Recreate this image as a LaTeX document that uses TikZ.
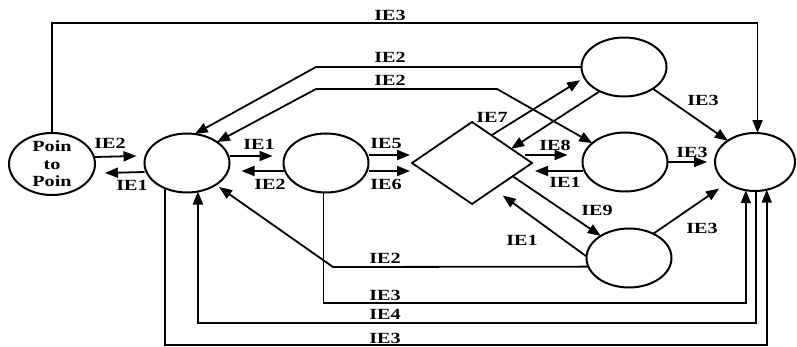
\documentclass[tikz,border=0pt]{standalone}
\usepackage{fontspec}
\setmainfont{Liberation Serif}
\newfontfamily\lblfont[FakeStretch=1.3]{Liberation Serif}
\usetikzlibrary{shapes.geometric,arrows.meta}

\begin{document}
\begin{tikzpicture}[x=1pt,y=-1pt,
  state/.style={ellipse,draw,line width=2pt,minimum width=85pt,minimum height=59pt,inner sep=0pt,outer sep=0pt},
  gate/.style={diamond,draw,line width=1.8pt,minimum width=120pt,minimum height=82pt,inner sep=0pt,outer sep=0pt},
  lbl/.style={font=\lblfont\bfseries\fontsize{15.5}{17.5}\selectfont,inner sep=0pt},
  link/.style={line width=1.8pt},
  arr/.style={link,-{Triangle[length=13pt,width=10pt]}},
  darr/.style={link,{Triangle[length=13pt,width=10pt]}-{Triangle[length=13pt,width=10pt]}}
]
\useasboundingbox (0,0) rectangle (797,347);

% states
\node[state,minimum width=86pt,minimum height=62pt] (P) at (52,164) {};
\node[lbl,align=center] (Pt) at (P.center) {Poin\\to\\Poin};
\node[state] (A) at (187,163) {};
\node[state] (B) at (326,163) {};
\node[gate]  (Dm) at (472,163) {};
\node[state] (C) at (624,67) {};
\node[state] (D) at (625,162) {};
\node[state,minimum width=80pt,minimum height=58pt] (E) at (755,162) {};
\node[state] (F) at (629,258) {};

% routing levels and bends
\coordinate (top) at (0,23);
\coordinate (u1) at (316,67);
\coordinate (u2) at (316,89);
\coordinate (u3) at (497,89);
\coordinate (w1) at (333,267);
\coordinate (lv1) at (0,303);
\coordinate (lv2) at (0,323);
\coordinate (lv3) at (0,345);

% top feed
\draw[arr] (P.north) -- (P.north |- top) -- (E.85 |- top) -- (E.85);
\node[lbl] (t1) at (390,15) {IE3};

% upper returns to A
\draw[arr] (C.west) -- (u1) -- (A.75);
\node[lbl] (t2) at (390,57) {IE2};
\draw[darr] (A.35) -- (u2) -- (u3) -- (D.150);
\node[lbl] (t3) at (390,80) {IE2};

% main row
\draw[arr] ([yshift=7pt]P.east) -- ([shift={(-8pt,7pt)}]A.west);
\node[lbl] (t4) at (110,143) {IE2};
\draw[arr] ([yshift=-9pt]A.west) -- ([shift={(10pt,-9pt)}]P.east);
\node[lbl] (t5) at (132,185) {IE1};

\draw[arr] ([yshift=7pt]A.east) -- ([shift={(-11pt,7pt)}]B.west);
\node[lbl] (t6) at (259,144) {IE1};
\draw[arr] ([yshift=-8pt]B.west) -- ([shift={(12pt,-8pt)}]A.east);
\node[lbl] (t7) at (270,184) {IE2};

\draw[arr] ([yshift=8pt]B.east) -- ([shift={(-2pt,8pt)}]Dm.west);
\node[lbl] (t8) at (386,144) {IE5};
\draw[arr] ([yshift=-8pt]B.east) -- ([shift={(-2pt,-8pt)}]Dm.west);
\node[lbl] (t9) at (386,184) {IE6};

\draw[arr] ([shift={(-7pt,8pt)}]Dm.east) -- ([shift={(-15pt,7pt)}]D.west);
\node[lbl] (t10) at (555,145) {IE8};
\draw[arr] ([yshift=-9pt]D.west) -- ([shift={(3pt,-8pt)}]Dm.east);
\node[lbl] (t11) at (565,182) {IE1};

\draw[arr] (D.east) -- ([xshift=-8pt]E.west);
\node[lbl] (t12) at (692,152) {IE3};

% diagonals
\draw[arr,shorten >=5pt] (Dm.55) -- (C.195);
\node[lbl] (t13) at (492,117) {IE7};
\draw[arr] (C.225) -- (Dm.20);
\draw[arr] (C.-37) -- (E.142);
\node[lbl] (t14) at (703,100) {IE3};
\draw[arr] (Dm.-18) -- (F.142);
\node[lbl] (t15) at (597,210) {IE9};
\draw[arr,shorten >=11pt] (F.178) -- (Dm.-50);
\node[lbl] (t16) at (522,240) {IE1};
\draw[arr,shorten >=10pt] (F.45) -- (E.217);
\node[lbl] (t17) at (702,228) {IE3};

% lower returns
\draw[arr,shorten >=4pt] (F.192) -- (w1) -- (A.-37);
\node[lbl] (t18) at (385,258) {IE2};
\draw[arr] (B.265) -- (B.265 |- lv1) -- (E.252 |- lv1) -- (E.252);
\node[lbl] (t19) at (385,295) {IE3};
\draw[arr] (E.272) -- (E.272 |- lv2) -- (A.291 |- lv2) -- (A.291);
\node[lbl] (t20) at (385,314) {IE4};
\draw[arr] (A.229) -- (A.229 |- lv3) -- (E.293 |- lv3) -- (E.293);
\node[lbl] (t21) at (385,338) {IE3};
\end{tikzpicture}
\end{document}
